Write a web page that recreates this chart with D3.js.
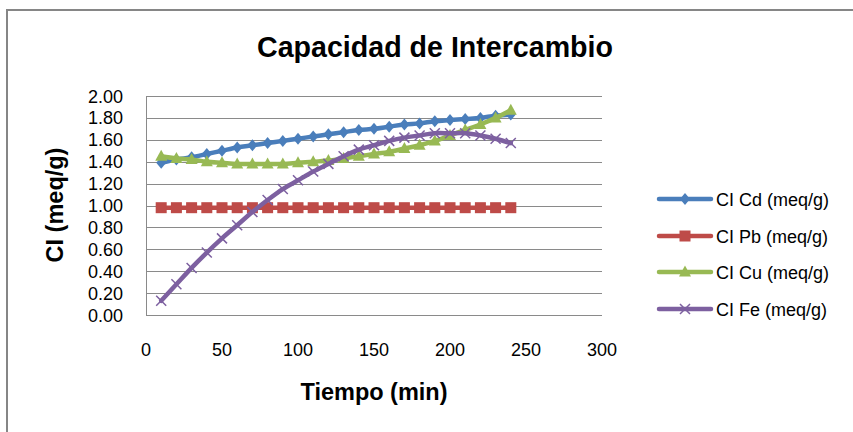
<!DOCTYPE html>
<html><head><meta charset="utf-8">
<script src="https://cdn.jsdelivr.net/npm/d3@7"></script>
<style>
html,body{margin:0;padding:0;background:#fff;}
svg{display:block;font-family:"Liberation Sans",Arial,sans-serif;}
</style></head>
<body><svg id="c" width="853" height="432"></svg>
<script>
const times = [10,20,30,40,50,60,70,80,90,100,110,120,130,140,150,160,170,180,190,200,210,220,230,240];
const cd = [1.39,1.42,1.44,1.47,1.50,1.53,1.55,1.57,1.59,1.61,1.63,1.65,1.67,1.69,1.70,1.72,1.74,1.75,1.77,1.78,1.79,1.80,1.82,1.83];
const pb = [0.98,0.98,0.98,0.98,0.98,0.98,0.98,0.98,0.98,0.98,0.98,0.98,0.98,0.98,0.98,0.98,0.98,0.98,0.98,0.98,0.98,0.98,0.98,0.98];
const cu = [1.45,1.43,1.42,1.40,1.39,1.38,1.38,1.38,1.38,1.39,1.40,1.41,1.43,1.45,1.47,1.49,1.52,1.55,1.59,1.64,1.69,1.74,1.80,1.87];
const fe = [0.13,0.28,0.43,0.57,0.70,0.82,0.94,1.05,1.15,1.23,1.31,1.38,1.45,1.51,1.55,1.59,1.62,1.64,1.66,1.66,1.66,1.64,1.61,1.57];
const seriesNames = ["CI Cd (meq/g)","CI Pb (meq/g)","CI Cu (meq/g)","CI Fe (meq/g)"];
const seriesColors = ["#4A7EBB","#BE4B48","#98B954","#7D60A0"];
const seriesMarkers = ["diamond","square","triangle","x"];
const xTicks = [0,50,100,150,200,250,300];
const yTicks = [0,0.2,0.4,0.6,0.8,1.0,1.2,1.4,1.6,1.8,2.0];
const title = "Capacidad de Intercambio";
const xTitle = "Tiempo (min)";
const yTitle = "CI (meq/g)";

const svg = d3.select("#c");
svg.append("rect").attr("x",0).attr("y",0).attr("width",853).attr("height",432).attr("fill","#fff");
svg.append("rect").attr("x",7).attr("y",10).attr("width",900).attr("height",500)
  .attr("fill","none").attr("stroke","#868686").attr("stroke-width",2);

const L=146, R=602, T=96, B=315;
const x = d3.scaleLinear().domain([0,300]).range([L,R]);
const y = d3.scaleLinear().domain([0,2]).range([B,T]);

// gridlines
svg.append("g").selectAll("line").data(yTicks).join("line")
  .attr("x1",L).attr("x2",R).attr("y1",d=>Math.round(y(d))+0.5).attr("y2",d=>Math.round(y(d))+0.5)
  .attr("stroke","#8a8a8a").attr("stroke-width",1);
svg.append("line").attr("x1",L+0.5).attr("x2",L+0.5).attr("y1",T).attr("y2",B+1)
  .attr("stroke","#8a8a8a").attr("stroke-width",1);

// y tick labels
svg.append("g").selectAll("text").data(yTicks).join("text")
  .attr("x",123).attr("y",d=>y(d)+6.5).attr("text-anchor","end")
  .attr("font-size",18).attr("fill","#000").text(d=>d3.format(".2f")(d));
// x tick labels
svg.append("g").selectAll("text").data(xTicks).join("text")
  .attr("x",d=>x(d)).attr("y",356).attr("text-anchor","middle")
  .attr("font-size",18).attr("fill","#000").text(d=>d);

// titles
svg.append("text").attr("x",435).attr("y",57).attr("text-anchor","middle")
  .attr("font-size",28.6).attr("font-weight","bold").text(title);
svg.append("text").attr("x",374).attr("y",400).attr("text-anchor","middle")
  .attr("font-size",23.5).attr("font-weight","bold").text(xTitle);
svg.append("text").attr("transform","translate(63,205) rotate(-90)").attr("text-anchor","middle")
  .attr("font-size",23.5).attr("font-weight","bold").text(yTitle);

const allData = [cd,pb,cu,fe];
const line = d3.line().x(d=>x(d[0])).y(d=>y(d[1])).curve(d3.curveCatmullRom.alpha(0.5));

function marker(g, type, color, cx, cy){
  if(type==="diamond"){
    g.append("path").attr("d",`M${cx},${cy-6}L${cx+5},${cy}L${cx},${cy+6}L${cx-5},${cy}Z`).attr("fill",color);
  } else if(type==="square"){
    g.append("rect").attr("x",cx-5.5).attr("y",cy-5.5).attr("width",11).attr("height",11).attr("fill",color);
  } else if(type==="triangle"){
    g.append("path").attr("d",`M${cx},${cy-6.5}L${cx+6},${cy+4.5}L${cx-6},${cy+4.5}Z`).attr("fill",color);
  } else {
    g.append("path").attr("d",`M${cx-5},${cy-5}L${cx+5},${cy+5}M${cx+5},${cy-5}L${cx-5},${cy+5}`)
      .attr("stroke",color).attr("stroke-width",1.5).attr("fill","none");
  }
}

allData.forEach((vals,i)=>{
  const pts = times.map((t,j)=>[t,vals[j]]);
  const g = svg.append("g");
  g.append("path").attr("d",line(pts)).attr("fill","none").attr("stroke",seriesColors[i])
    .attr("stroke-width",4.5).attr("stroke-linejoin","round").attr("stroke-linecap","round");
  pts.forEach(p=>marker(g, seriesMarkers[i], seriesColors[i], x(p[0]), y(p[1])));
});

// legend
const legY = [199,236,272,309];
seriesNames.forEach((n,i)=>{
  const g = svg.append("g");
  g.append("line").attr("x1",659).attr("x2",711).attr("y1",legY[i]).attr("y2",legY[i])
    .attr("stroke",seriesColors[i]).attr("stroke-width",4.5).attr("stroke-linecap","round");
  marker(g, seriesMarkers[i], seriesColors[i], 685, legY[i]);
  g.append("text").attr("x",716).attr("y",legY[i]+6.5).attr("font-size",18).text(n);
});
</script></body></html>
